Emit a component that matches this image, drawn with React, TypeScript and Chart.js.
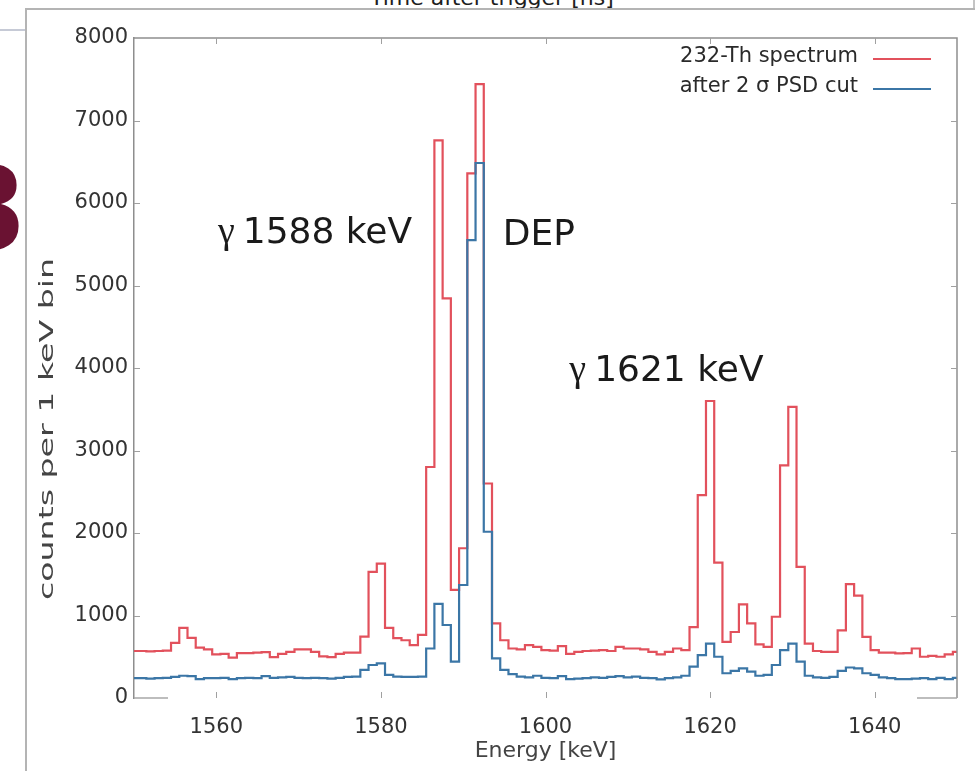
import React, { useEffect, useRef } from "react";
import { Chart, registerables } from "chart.js";

Chart.register(...registerables);

// Bin centres (keV), 1 keV bins
const energies = [
  1550, 1551, 1552, 1553, 1554, 1555, 1556, 1557, 1558, 1559,
  1560, 1561, 1562, 1563, 1564, 1565, 1566, 1567, 1568, 1569,
  1570, 1571, 1572, 1573, 1574, 1575, 1576, 1577, 1578, 1579,
  1580, 1581, 1582, 1583, 1584, 1585, 1586, 1587, 1588, 1589,
  1590, 1591, 1592, 1593, 1594, 1595, 1596, 1597, 1598, 1599,
  1600, 1601, 1602, 1603, 1604, 1605, 1606, 1607, 1608, 1609,
  1610, 1611, 1612, 1613, 1614, 1615, 1616, 1617, 1618, 1619,
  1620, 1621, 1622, 1623, 1624, 1625, 1626, 1627, 1628, 1629,
  1630, 1631, 1632, 1633, 1634, 1635, 1636, 1637, 1638, 1639,
  1640, 1641, 1642, 1643, 1644, 1645, 1646, 1647, 1648, 1649,
  1650,
];

// 232-Th spectrum (counts per 1 keV bin)
const thSpectrum = [
  570, 570, 565, 570, 575, 667, 850, 730, 610, 590,
  530, 535, 490, 545, 545, 550, 555, 495, 535, 560,
  590, 590, 560, 505, 495, 535, 550, 550, 745, 1530,
  1630, 850, 725, 700, 640, 765, 2800, 6760, 4845, 1310,
  1815, 6360, 7440, 2600, 905, 700, 600, 590, 640, 620,
  580, 575, 630, 535, 560, 570, 575, 580, 570, 620,
  600, 600, 590, 560, 530, 560, 600, 580, 860, 2460,
  3600, 1640, 680, 800, 1135, 905, 650, 620, 985, 2820,
  3530, 1590, 660, 570, 560, 560, 820, 1380, 1240, 740,
  580, 550, 550, 540, 545, 600, 500, 510, 500, 530,
  560,
];

// after 2 sigma PSD cut
const afterPsd = [
  240, 240, 235, 240, 245, 255, 270, 265, 230, 240,
  240, 245, 230, 240, 245, 240, 265, 245, 250, 255,
  245, 240, 245, 240, 235, 245, 255, 260, 340, 400,
  420, 280, 260, 255, 255, 258, 600, 1140, 885, 440,
  1370, 5550, 6485, 2015, 480, 340, 290, 260, 250, 270,
  245, 240, 265, 230, 235, 240, 250, 245, 255, 265,
  250, 260, 245, 240, 225, 240, 250, 270, 380, 520,
  660, 500, 300, 330, 360, 320, 270, 280, 400, 580,
  660, 440, 270, 250, 245, 255, 330, 370, 360, 300,
  280, 250, 240, 230, 230, 235, 240, 230, 245, 230,
  245,
];

const xTickValues = [1560, 1580, 1600, 1620, 1640];
const yTickValues = [0, 1000, 2000, 3000, 4000, 5000, 6000, 7000, 8000];
const seriesLabels = ["232-Th spectrum", "after 2 \u03c3 PSD cut"];
const seriesColors = ["#e2515c", "#3b76a6"];
const xTitle = "Energy [keV]";
const yTitle = "counts per 1 keV bin";
const topCaption = "Time after trigger [ns]";

const peakNotes = [
  { greek: "\u03b3", text: "1588 keV", energy: 1560.2, counts: 5520 },
  { greek: "", text: "DEP", energy: 1594.8, counts: 5490 },
  { greek: "\u03b3", text: "1621 keV", energy: 1602.9, counts: 3840 },
];

const FONT = '"DejaVu Sans", "Liberation Sans", sans-serif';

const decorPlugin = {
  id: "decor",
  afterDatasetsDraw(chart: any) {
    const { ctx, scales } = chart;
    const xs = scales.x;
    const ys = scales.y;
    ctx.save();
    ctx.fillStyle = "#1a1a1a";
    ctx.textBaseline = "alphabetic";
    ctx.textAlign = "left";
    for (const n of peakNotes) {
      let px = xs.getPixelForValue(n.energy);
      const py = ys.getPixelForValue(n.counts);
      if (n.greek) {
        ctx.font = '38px "Liberation Serif", serif';
        ctx.fillText(n.greek, px, py);
        px += ctx.measureText(n.greek).width + 8;
      }
      ctx.font = "36px " + FONT;
      ctx.fillText(n.text, px, py);
    }
    ctx.restore();
  },
  afterDraw(chart: any) {
    const { ctx, chartArea: a, scales } = chart;
    const xs = scales.x;
    const ys = scales.y;
    ctx.save();
    // frame top & right
    ctx.strokeStyle = "#8e8e8e";
    ctx.lineWidth = 1.5;
    ctx.beginPath();
    ctx.moveTo(a.left, a.top);
    ctx.lineTo(a.right, a.top);
    ctx.lineTo(a.right, a.bottom);
    ctx.stroke();
    // faint bottom frame pieces
    ctx.strokeStyle = "#a8a8a8";
    ctx.beginPath();
    ctx.moveTo(a.left, a.bottom);
    ctx.lineTo(a.left + 34, a.bottom);
    ctx.moveTo(a.right - 40, a.bottom);
    ctx.lineTo(a.right, a.bottom);
    ctx.stroke();
    // inward tick marks on all sides
    ctx.strokeStyle = "#a0a0a0";
    ctx.lineWidth = 1;
    ctx.beginPath();
    for (const v of xTickValues) {
      const px = Math.round(xs.getPixelForValue(v)) + 0.5;
      ctx.moveTo(px, a.bottom);
      ctx.lineTo(px, a.bottom - 6);
      ctx.moveTo(px, a.top);
      ctx.lineTo(px, a.top + 6);
    }
    for (const v of yTickValues) {
      if (v <= ys.min || v >= ys.max) continue;
      const py = Math.round(ys.getPixelForValue(v)) + 0.5;
      ctx.moveTo(a.left, py);
      ctx.lineTo(a.left + 6, py);
      ctx.moveTo(a.right, py);
      ctx.lineTo(a.right - 6, py);
    }
    ctx.stroke();

    // legend (text then line sample)
    const legendRight = a.right - 99;
    const rows = [a.top + 19, a.top + 49];
    ctx.font = "21px " + FONT;
    ctx.textAlign = "right";
    ctx.textBaseline = "middle";
    chart.data.datasets.forEach((ds: any, i: number) => {
      ctx.fillStyle = "#2a2a2a";
      ctx.fillText(ds.label, legendRight, rows[i]);
      ctx.strokeStyle = ds.borderColor;
      ctx.lineWidth = 2.2;
      ctx.beginPath();
      ctx.moveTo(legendRight + 15, rows[i] + 2);
      ctx.lineTo(legendRight + 73, rows[i] + 2);
      ctx.stroke();
    });

    // y-axis title (stretched to match reference length)
    ctx.translate(48, (a.top + a.bottom) / 2 + 61);
    ctx.rotate(-Math.PI / 2);
    ctx.font = "20px " + FONT;
    const w = ctx.measureText(yTitle).width;
    ctx.scale(342 / w, 1);
    ctx.textAlign = "center";
    ctx.textBaseline = "middle";
    ctx.fillStyle = "#444";
    ctx.fillText(yTitle, 0, 0);
    ctx.restore();
  },
};

export default function App() {
  const canvasRef = useRef<HTMLCanvasElement | null>(null);

  useEffect(() => {
    const canvas = canvasRef.current;
    if (!canvas) return;
    const chart = new Chart(canvas, {
      type: "line",
      data: {
        datasets: [
          {
            label: seriesLabels[0],
            data: energies.map((e, i) => ({ x: e, y: thSpectrum[i] })),
            borderColor: seriesColors[0],
            borderWidth: 2.2,
            stepped: "middle",
            pointRadius: 0,
            fill: false,
            order: 2,
          },
          {
            label: seriesLabels[1],
            data: energies.map((e, i) => ({ x: e, y: afterPsd[i] })),
            borderColor: seriesColors[1],
            borderWidth: 2.2,
            stepped: "middle",
            pointRadius: 0,
            fill: false,
            order: 1,
          },
        ],
      },
      options: {
        responsive: false,
        maintainAspectRatio: false,
        animation: false,
        devicePixelRatio: 1,
        layout: { padding: { top: 38, right: 22, left: 0, bottom: 0 } },
        plugins: {
          legend: { display: false },
          tooltip: { enabled: false },
        },
        scales: {
          x: {
            type: "linear",
            min: 1550,
            max: 1650,
            afterBuildTicks: (s: any) => {
              s.ticks = xTickValues.map((v) => ({ value: v }));
            },
            afterFit: (s: any) => {
              s.height = 73;
            },
            grid: { display: false, drawTicks: false },
            border: { display: false },
            ticks: {
              padding: 17,
              color: "#333",
              font: { family: FONT, size: 21 },
              maxRotation: 0,
              autoSkip: false,
              callback: (v: any) => String(v),
            },
            title: {
              display: true,
              text: xTitle,
              color: "#444",
              font: { family: FONT, size: 22 },
              padding: { top: 0, bottom: 7 },
            },
          },
          y: {
            min: 0,
            max: 8000,
            afterBuildTicks: (s: any) => {
              s.ticks = yTickValues.map((v) => ({ value: v }));
            },
            afterFit: (s: any) => {
              s.width = 134;
            },
            grid: { display: false, drawTicks: false },
            border: { display: true, color: "#8e8e8e", width: 1.5 },
            ticks: {
              padding: 6,
              color: "#333",
              font: { family: FONT, size: 21 },
              autoSkip: false,
              callback: (v: any) => String(v),
            },
          },
        },
      },
      plugins: [decorPlugin],
    });
    return () => chart.destroy();
  }, []);

  return (
    <div
      style={{
        position: "absolute",
        left: 0,
        top: 0,
        width: 979,
        height: 771,
        overflow: "hidden",
        background: "#fff",
      }}
    >
      <div
        style={{
          position: "absolute",
          left: 370,
          top: -13,
          font: "22px " + FONT,
          lineHeight: 1,
          color: "#1e1e1e",
          whiteSpace: "nowrap",
        }}
      >
        {topCaption}
      </div>
      <div
        style={{
          position: "absolute",
          left: 0,
          top: 29,
          width: 25,
          height: 2,
          background: "#c6cad6",
        }}
      />
      <div
        style={{
          position: "absolute",
          left: 973,
          top: 0,
          width: 2,
          height: 28,
          background: "#c4c4c4",
        }}
      />
      <div
        style={{
          position: "absolute",
          left: 25,
          top: 8,
          width: 948,
          height: 800,
          borderTop: "2px solid #b4b4b4",
          borderLeft: "2px solid #b4b4b4",
          background: "#fff",
        }}
      />
      <div
        style={{
          position: "absolute",
          left: -100,
          top: 151,
          width: 128,
          textAlign: "right",
          font: "bold 117px " + FONT,
          lineHeight: 1,
          color: "#6a1232",
        }}
      >
        3
      </div>
      <canvas
        ref={canvasRef}
        width={979}
        height={771}
        style={{ position: "absolute", left: 0, top: 0, width: 979, height: 771 }}
      />
    </div>
  );
}
